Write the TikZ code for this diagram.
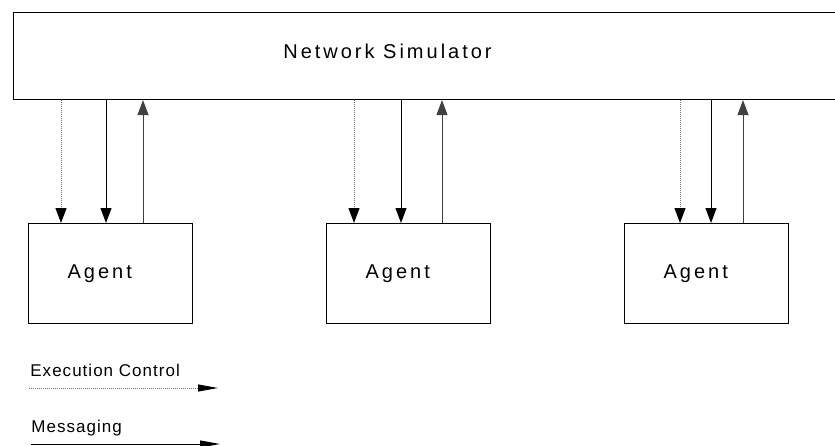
\documentclass[tikz,border=0pt]{standalone}
\usepackage{fontspec}
\setmainfont{Liberation Sans}[LetterSpace=15]
\newfontfamily\legendfont{Liberation Sans}[LetterSpace=6]
\usepackage{tikz}
\usetikzlibrary{arrows.meta}

\tikzset{
  box/.style={draw, line width=0.55pt, rectangle},
  agent/.style={box, minimum height=50pt, text width=43pt, inner xsep=19.5pt, align=left, font=\fontsize{10}{12}\selectfont},
  ctrl/.style={-{Triangle[length=7.5pt,width=5.5pt,color=black]}, draw=black!55, dash pattern=on 0.6pt off 0.4pt, line width=0.5pt},
  msg/.style={-{Triangle[length=7.5pt,width=5.5pt]}, line width=0.5pt},
  reply/.style={msg, draw=black!75},
  legend/.style={font=\legendfont\fontsize{8.5}{10}\selectfont, anchor=base west, inner sep=0pt},
}

\begin{document}
\begin{tikzpicture}[x=0.5pt, y=-0.5pt]
  \useasboundingbox (0,0) rectangle (835,445);
  \clip (0,0) rectangle (835,445);

  % simulator runs off the right edge
  \node[box, anchor=north west, minimum width=440pt, minimum height=43.5pt] (sim) at (13,12) {};
  \node[font=\fontsize{10}{12}\selectfont] (simlbl) at (387.5,51) {Network Simulator};

  \node[agent, anchor=north west] (a1) at (28,223) {Agent};
  \node[agent, anchor=north west] (a2) at (326,223) {Agent};
  \node[agent, anchor=north west] (a3) at (624,223) {Agent};

  % control, message down, message up
  \foreach \ag/\xa/\xb/\xc in {a1/61/106/143, a2/354/401/442, a3/680/711/743} {
    \draw[ctrl] (\xa,0 |- sim.south) -- (\xa,0 |- \ag.north);
    \draw[msg] (\xb,0 |- sim.south) -- (\xb,0 |- \ag.north);
    \draw[reply] (\xc,0 |- \ag.north) -- (\xc,0 |- sim.south);
  }

  % legend
  \node[legend] (ctrllbl) at (30,376) {Execution Control};
  \coordinate (c0) at (29,388);
  \coordinate (c1) at (218,388);
  \draw[ctrl, -{Triangle[length=10pt,width=3.5pt,color=black]}] (c0) -- (c1);

  \node[legend] (msglbl) at (31,432) {Messaging};
  \coordinate (m0) at (31,444);
  \coordinate (m1) at (220,444);
  \draw[msg, -{Triangle[length=10pt,width=3.5pt]}] (m0) -- (m1);
\end{tikzpicture}
\end{document}
